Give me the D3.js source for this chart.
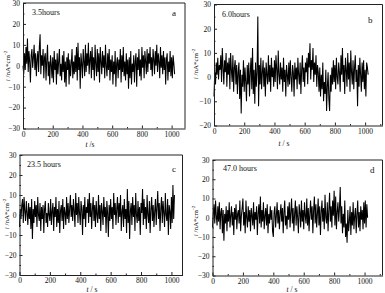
<!DOCTYPE html>
<html>
<head>
<meta charset="utf-8">
<script src="https://cdn.jsdelivr.net/npm/d3@7"></script>
<style>
    body { margin: 0; background: #fff; }
    svg text { font-family: "Liberation Serif", "Times New Roman", serif; fill: #111; }
</style>
</head>
<body>
<div id="chart"></div>
<script>
// Sampling interval of the current records, seconds
const sampleStep = 5;

// Panel titles and letters
const panelTitles = ['3.5hours', '6.0hours', '23.5 hours', '47.0 hours'];
const panelLetters = ['a', 'b', 'c', 'd'];
const xLabels = ['t /s', 't / s', 't / s', 't / s'];

// Tick values
const xTicks = [0, 200, 400, 600, 800, 1000];
const yTicksA = [-30, -20, -10, 0, 10, 20, 30];
const yTicksB = [-20, -10, 0, 10, 20, 30];

// Current noise, nA/cm^2 (read every 5 s)
const currentA = [
    0, -4, 6, -2, 9, 1, 13, -3, 7, 2,
    -8, 5, 8, -1, 4, 10, -2, 6, -5, 3,
    7, -3, 9, 15, -4, 5, 0, 8, -6, 4,
    6, -7, 3, 10, -5, 2, -9, 5, 1, -6,
    4, -8, 7, -2, 3, -9, 6, -4, 2, 8,
    -5, 1, -7, 5, -3, 7, -8, 2, -10, 4,
    -2, 6, -9, 3, -5, 1, 8, -6, 2, -4,
    5, -3, 9, -7, 11, -2, 4, -11, 6, 1,
    -6, 8, 2, -5, 10, -3, 6, 0, 11, -4,
    3, 7, -6, 9, -2, 4, -7, 10, 1, -5,
    8, -3, 6, -8, 9, 2, -4, 7, -1, 5,
    -6, 10, 0, -5, 6, -2, 8, -7, 3, -3,
    5, -9, 2, -4, 7, -10, 1, 4, -6, 3,
    -2, 8, -8, 5, -3, 9, -5, 2, -7, 6,
    -4, 3, -11, 4, -6, 7, -9, 1, -3, 5,
    -8, 2, 6, -10, 4, -2, 8, -5, 3, -7,
    9, -1, 5, -6, 7, 2, -4, 8, -3, 6,
    1, 9, -2, 4, -5, 8, 3, -4, 7, 0,
    10, -3, 6, 2, -6, 9, -1, 5, -4, 7,
    -2, 4, -9, 3, 6, -7, 2, -3, 7, -5,
    4, -6, 5, 1, -4
];
const currentB = [
    -8, 2, -3, 6, 1, 8, -1, 5, 3, 9,
    -2, 12, 4, -3, 7, 2, 10, -4, 6, 1,
    8, -5, 10, 3, -2, 9, -6, 4, 7, -3,
    5, -7, 2, 6, -9, 3, -15, 1, -4, 7,
    -6, 4, -2, -10, 5, -3, 6, -8, 2, 8,
    -5, 12, -7, 3, -11, 6, -4, 2, 25, -12,
    5, -3, 8, -5, 2, 7, -4, 4, -8, 6,
    1, -3, 9, -2, 5, -6, 8, 0, 4, -4,
    7, -2, 9, 3, -5, 11, 1, -3, 6, -1,
    4, -6, 8, -2, 3, -8, 5, 1, -4, 6,
    -3, 7, 0, -6, 5, 2, -8, 6, -1, 4,
    -5, 8, 1, -3, 6, -7, 3, 9, -2, 4,
    -4, 6, 2, 8, -3, 10, 4, 14, -1, 7,
    3, 12, -2, 6, 1, 9, -4, 5, 2, -6,
    4, -8, 1, -5, 6, -10, -2, -7, 3, -14,
    -4, 2, -9, -14, 1, -6, 4, -3, 7, -2,
    5, -5, 8, 0, -3, 6, 2, -6, 9, 1,
    12, -2, 5, -7, 8, 3, -4, 10, -1, 6,
    -6, 11, 2, -3, 7, -5, 4, 9, -2, 3,
    -12, 5, -4, 8, 1, -6, 6, -2, 7, -5,
    3, -8, 6, 4, 1
];
const currentC = [
    -6, 3, -2, 5, 8, -4, 9, 2, -3, 7,
    1, -5, 6, -2, 4, -7, 8, -12, 3, -4,
    7, -1, 5, -6, 9, 0, -3, 6, -8, 4,
    -2, 5, -9, 3, 7, -4, 1, -6, 6, 0,
    -3, 8, -5, 2, 6, -8, 4, -1, 9, -6,
    3, -4, 7, -9, 2, 5, -3, 8, -7, 4,
    1, -5, 9, -2, 6, -4, 3, 10, -1, 5,
    -3, 8, 2, -6, 11, 0, 6, -4, 9, 1,
    -5, 7, 3, -10, 5, -2, 9, -6, 4, 1,
    8, -4, 11, -1, 6, -7, 3, 9, -3, 5,
    -6, 7, 0, -4, 10, -2, 5, -8, 6, 2,
    -5, 9, -1, 4, -9, 7, 1, -11, 5, -3,
    8, -2, 4, -7, 11, 0, 6, -5, 3, 9,
    -4, 6, -1, 10, -8, 2, 5, -6, 8, -2,
    3, -9, 13, -4, 7, -12, 2, 6, -5, 9,
    -1, 5, -8, 11, 0, -4, 7, -3, 4, -10,
    6, 1, 13, -5, 8, -2, 4, -7, 10, 0,
    -4, 7, -9, 3, 9, -3, 5, -6, 2, 8,
    -5, 4, 12, -2, 6, -8, 3, 9, -4, 7,
    1, -6, 11, 0, -3, 8, -10, 5, 2, -7,
    9, -4, 15, -2, 10
];
const currentD = [
    -5, 2, 7, -3, 9, 1, -4, 6, -2, 8,
    -6, 3, 5, -8, 4, -12, 2, -3, 6, -7,
    4, -2, 8, -5, 1, 6, -4, 3, -9, 5,
    -1, 7, -6, 2, 4, -3, 9, -7, 1, 5,
    10, -4, 3, -8, 9, 0, -5, 6, -2, 4,
    -7, 5, 1, -4, 8, -6, 3, -1, 6, -9,
    2, 7, -3, 11, -5, 4, -2, 8, -6, 1,
    5, -4, 7, -8, 2, -3, 6, -1, 4, -7,
    -10, 3, 6, -5, 1, 8, -3, 4, -6, 2,
    7, -2, 5, -8, 3, 9, -4, 1, -6, 6,
    -1, 8, -5, 3, 10, -3, 5, -7, 2, 9,
    -4, 6, 0, -8, 7, 3, -5, 9, -2, 4,
    -6, 8, 1, -3, 10, -4, 5, -7, 2, 9,
    -1, 6, -8, 4, 11, -3, 7, -5, 2, 10,
    -4, 6, -9, 3, 9, -2, 5, -6, 12, 0,
    -3, 8, -7, 4, 13, -2, 6, -5, 9, 1,
    14, -4, 11, -6, 3, 8, -2, 5, 16, -3,
    6, -8, 2, -5, 9, -10, -3, -13, 4, -7,
    -2, 6, -9, 3, -4, 8, -6, 1, 5, -8,
    2, 9, -5, 3, -7, 6, -1, 4, -6, 8,
    -3, 9, -5, 7, 0
];

// Panel boxes in pixels, and axis ranges
const panels = [
    { values: currentA, left: 23, right: 185, top: 3, bottom: 128.5, xMax: 1090, yDomain: [-30, 30], yTicks: yTicksA,
      title: [32, 15], letter: [172, 16], xLabel: [90, 147], yLabel: [7, 66] },
    { values: currentB, left: 214, right: 382.5, top: 4.5, bottom: 125.5, xMax: 1115, yDomain: [-20, 30], yTicks: yTicksB,
      title: [222, 17], letter: [368, 23], xLabel: [284, 146], yLabel: [195, 64] },
    { values: currentC, left: 19.5, right: 182.5, top: 155, bottom: 275, xMax: 1073, yDomain: [-30, 30], yTicks: yTicksA,
      title: [27, 167], letter: [172, 172], xLabel: [92, 292], yLabel: [6, 214] },
    { values: currentD, left: 212.5, right: 382.5, top: 160, bottom: 275.5, xMax: 1118, yDomain: [-30, 30], yTicks: yTicksA,
      title: [223, 171], letter: [370, 173], xLabel: [292, 292], yLabel: [195, 221] }
];

const svg = d3.select('#chart')
    .append('svg')
    .attr('width', 385)
    .attr('height', 293);

panels.forEach((p, k) => {
    const g = svg.append('g');

    // Scales
    const x = d3.scaleLinear().domain([0, p.xMax]).range([p.left, p.right]);
    const y = d3.scaleLinear().domain(p.yDomain).range([p.bottom, p.top]);

    // Noise trace
    const line = d3.line()
        .x((d, i) => x(i * sampleStep))
        .y(d => y(d));

    g.append('path')
        .datum(p.values)
        .attr('fill', 'none')
        .attr('stroke', '#000')
        .attr('stroke-width', 1.05)
        .attr('stroke-linejoin', 'miter')
        .attr('d', line);

    // Minor ticks
    const xMinor = d3.range(100, p.xMax, 200);
    const yMinor = d3.range(p.yDomain[0] + 5, p.yDomain[1], 10);

    // X axis, ticks pointing inward
    g.append('g')
        .attr('transform', `translate(0,${p.bottom})`)
        .call(d3.axisBottom(x).tickValues(xTicks).tickFormat(d3.format('d')).tickSize(-3).tickPadding(3).tickSizeOuter(0))
        .call(a => a.select('.domain').attr('stroke', '#222'))
        .call(a => a.selectAll('.tick line').attr('stroke', '#222'))
        .call(a => a.selectAll('.tick text').attr('font-size', 7.5).attr('fill', '#111'));

    g.append('g')
        .attr('transform', `translate(0,${p.bottom})`)
        .call(d3.axisBottom(x).tickValues(xMinor).tickSize(-1.5).tickFormat(''))
        .call(a => a.select('.domain').remove())
        .call(a => a.selectAll('.tick line').attr('stroke', '#222'));

    // Y axis, ticks pointing inward
    g.append('g')
        .attr('transform', `translate(${p.left},0)`)
        .call(d3.axisLeft(y).tickValues(p.yTicks).tickSize(-3).tickPadding(3).tickSizeOuter(0))
        .call(a => a.select('.domain').attr('stroke', '#222'))
        .call(a => a.selectAll('.tick line').attr('stroke', '#222'))
        .call(a => a.selectAll('.tick text').attr('font-size', 7.5).attr('fill', '#111'));

    g.append('g')
        .attr('transform', `translate(${p.left},0)`)
        .call(d3.axisLeft(y).tickValues(yMinor).tickSize(-1.5).tickFormat(''))
        .call(a => a.select('.domain').remove())
        .call(a => a.selectAll('.tick line').attr('stroke', '#222'));

    // Top and right frame
    g.append('path')
        .attr('d', `M${p.left},${p.top}H${p.right}V${p.bottom}`)
        .attr('fill', 'none')
        .attr('stroke', '#222')
        .attr('stroke-width', 1);

    // Title and letter
    g.append('text')
        .attr('x', p.title[0])
        .attr('y', p.title[1])
        .attr('font-size', 8)
        .text(panelTitles[k]);

    g.append('text')
        .attr('x', p.letter[0])
        .attr('y', p.letter[1])
        .attr('font-size', 9)
        .text(panelLetters[k]);

    // X label
    const xl = g.append('text')
        .attr('x', p.xLabel[0])
        .attr('y', p.xLabel[1])
        .attr('font-size', 7.5)
        .attr('text-anchor', 'middle');
    xl.append('tspan').attr('font-style', 'italic').text(xLabels[k].slice(0, 1));
    xl.append('tspan').text(xLabels[k].slice(1));

    // Y label
    const yl = g.append('text')
        .attr('transform', `translate(${p.yLabel[0] + 3},${p.yLabel[1]}) rotate(-90)`)
        .attr('font-size', 7)
        .attr('text-anchor', 'middle');
    yl.append('tspan').attr('font-style', 'italic').text('i');
    yl.append('tspan').text(' /nA*cm');
    yl.append('tspan').attr('font-size', 5).attr('dy', -3).text('-2');
});
</script>
</body>
</html>
